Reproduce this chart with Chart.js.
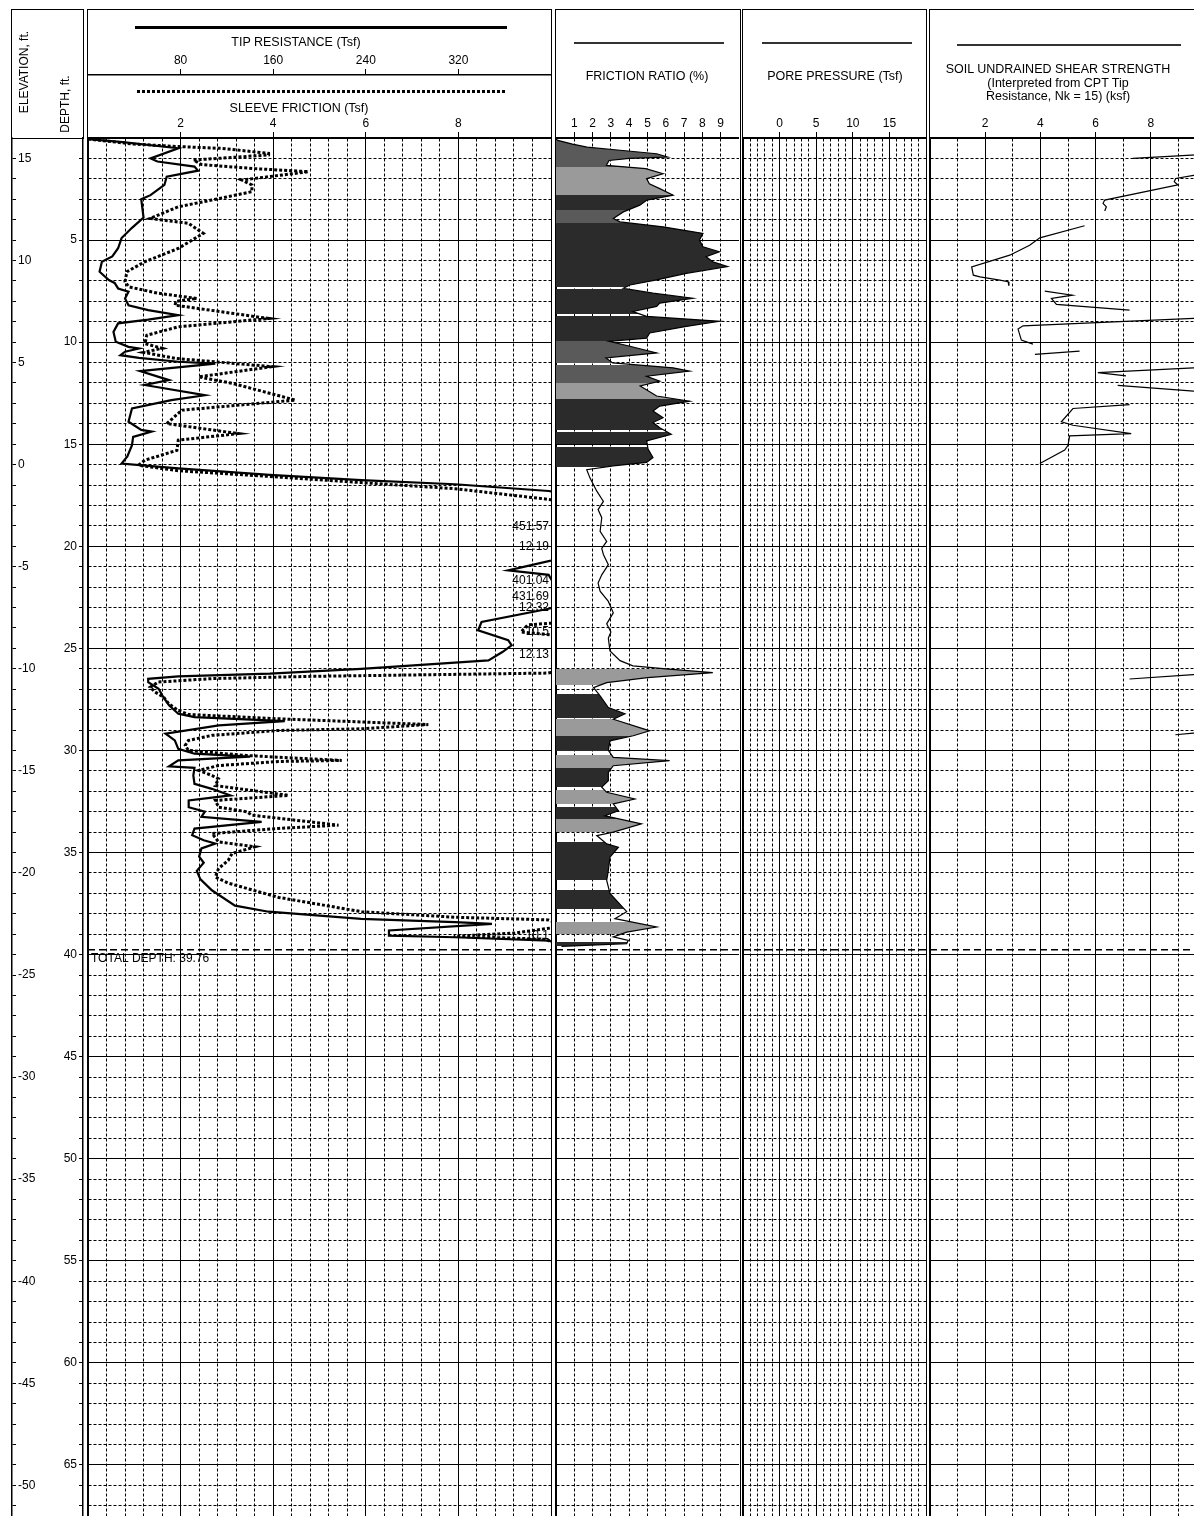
<!DOCTYPE html>
<html>
<head>
<meta charset="utf-8">
<title>CPT log</title>
<script src="https://cdn.jsdelivr.net/npm/chart.js@4.4.1/dist/chart.umd.min.js"></script>
<style>
  html, body { margin: 0; padding: 0; background: #fff; overflow: hidden; }
  #page { position: relative; width: 1194px; height: 1516px; overflow: hidden;
          font-family: "Liberation Sans", Arial, sans-serif; color: #000; }
  #page canvas { position: absolute; top: 0; }
  .frame { position: absolute; border: 1.5px solid #000; box-sizing: border-box; }
  .txt { position: absolute; transform: translate(-50%, -50%); white-space: nowrap; font-size: 12.5px; line-height: 1; }
  .rot { transform: translate(-50%, -50%) rotate(-90deg); font-size: 12px; }
  .key { position: absolute; }
</style>
</head>
<body>
<div id="page">
  <canvas id="elev" width="45" height="1516" style="left:0px"></canvas>
  <canvas id="depth" width="43" height="1516" style="left:45px"></canvas>
  <canvas id="tip" width="463" height="1516" style="left:88px"></canvas>
  <canvas id="fr" width="183" height="1516" style="left:556px"></canvas>
  <canvas id="pore" width="183" height="1516" style="left:743px"></canvas>
  <canvas id="su" width="276" height="1516" style="left:930px"></canvas>

  <div class="frame" style="left:11px;top:9px;width:73px;height:130px"></div>
  <div class="frame" style="left:87px;top:9px;width:465px;height:1530px"></div>
  <div class="frame" style="left:555px;top:9px;width:186px;height:1530px"></div>
  <div class="frame" style="left:742px;top:9px;width:185px;height:1530px"></div>
  <div class="frame" style="left:929px;top:9px;width:300px;height:1530px"></div>

  <div class="txt rot" style="left:24px;top:72px">ELEVATION, ft.</div>
  <div class="txt rot" style="left:65px;top:104px">DEPTH, ft.</div>

  <div class="key" style="left:135px;top:26px;width:372px;height:3px;background:#000"></div>
  <div class="txt" style="left:296px;top:42px">TIP RESISTANCE (Tsf)</div>
  <div class="key" style="left:137px;top:90px;width:370px;height:3px;background:repeating-linear-gradient(90deg,#000 0 3px,transparent 3px 5px)"></div>
  <div class="txt" style="left:299px;top:108px">SLEEVE FRICTION (Tsf)</div>

  <div class="key" style="left:574px;top:42px;width:150px;height:2px;background:#333"></div>
  <div class="txt" style="left:647px;top:76px">FRICTION RATIO (%)</div>

  <div class="key" style="left:762px;top:42px;width:150px;height:2px;background:#333"></div>
  <div class="txt" style="left:835px;top:76px">PORE PRESSURE (Tsf)</div>

  <div class="key" style="left:957px;top:44px;width:224px;height:2px;background:#333"></div>
  <div class="txt" style="left:1058px;top:69px">SOIL UNDRAINED SHEAR STRENGTH</div>
  <div class="txt" style="left:1058px;top:83px">(Interpreted from CPT Tip</div>
  <div class="txt" style="left:1058px;top:96px">Resistance, Nk = 15) (ksf)</div>
</div>

<script>
// depth axis shared by every track (ft), elevation = elevTop - depth
const depthMax = 67.5;
const elevTop = 16;
const totalDepth = 39.76;

// tick labels
const tipTickLabels = [80, 160, 240, 320];
const sleeveTickLabels = [2, 4, 6, 8];
const frTickLabels = [1, 2, 3, 4, 5, 6, 7, 8, 9];
const poreTickLabels = [0, 5, 10, 15];
const suTickLabels = [2, 4, 6, 8];

// [depth ft, tip resistance Tsf]
const tipResistance = [[0.05,0],[0.2,30],[0.5,78],[1.0,54],[1.15,60],[1.4,92],[1.6,95],[1.9,68],[2.3,66],[2.8,54],[3.0,46],[3.9,48],[4.4,38],[4.9,29],[5.4,26],[5.8,21],[6.06,12],[6.55,10],[6.96,18],[7.1,23],[7.37,26],[7.53,35],[7.86,32],[8.19,35],[8.43,52],[8.68,78],[8.9,52],[9.08,26],[9.5,22],[9.98,24],[10.23,35],[10.31,44],[10.47,32],[10.64,28],[10.77,44],[10.96,78],[11.05,110],[11.42,45],[11.86,70],[12.1,49],[12.6,101],[12.84,72],[13.25,38],[13.9,35],[14.3,46],[14.38,55],[14.64,39],[15.05,38],[15.6,34],[15.95,29],[16.18,78],[16.5,157],[16.76,236],[16.96,317],[17.29,398],[17.6,430],[18.5,448],[19.05,451.57],[20.0,440],[20.7,400],[21.18,363],[21.4,398],[21.7,401.04],[22.45,431.69],[23.06,398],[23.71,340],[24.12,337],[24.6,363],[24.85,366],[25.18,358],[25.59,346],[26.0,236],[26.24,157],[26.37,78],[26.49,52],[26.65,52],[26.98,61],[27.38,65],[27.79,70],[28.2,78],[28.37,92],[28.56,170],[28.77,113],[29.18,67],[29.51,75],[29.92,78],[30.16,92],[30.3,140],[30.49,78],[30.78,70],[30.85,92],[31.23,91],[31.64,92],[31.88,107],[32.2,123],[32.45,87],[32.78,87],[33.0,101],[33.25,98],[33.5,150],[33.83,92],[34.15,90],[34.4,100],[34.56,110],[34.8,98],[35.2,96],[35.5,100],[35.9,94],[36.3,97],[36.85,107],[37.6,127],[37.9,156],[38.25,236],[38.41,317],[38.5,349],[38.82,260],[39.07,260],[39.15,317],[39.32,398],[39.5,410],[39.76,410]];

// [depth ft, sleeve friction Tsf]
const sleeveFriction = [[0.05,0],[0.3,1.0],[0.42,1.96],[0.51,2.89],[0.75,3.9],[0.83,3.9],[1.08,2.28],[1.3,2.45],[1.5,3.6],[1.65,4.76],[2.06,3.32],[2.3,3.54],[2.63,3.54],[3.04,2.67],[3.37,1.95],[3.94,1.34],[4.18,2.17],[4.67,2.49],[5.41,1.95],[6.06,1.23],[6.55,0.84],[7.04,0.8],[7.29,0.88],[7.6,1.5],[7.86,2.35],[8.0,1.9],[8.19,1.88],[8.84,3.9],[9.25,1.95],[9.66,1.27],[10.07,1.23],[10.3,1.6],[10.5,1.2],[10.8,1.9],[11.2,3.97],[11.7,2.39],[12.03,3.14],[12.84,4.48],[13.33,2.03],[13.99,1.7],[14.48,3.25],[14.8,1.95],[15.3,1.92],[15.78,1.23],[16.03,1.09],[16.3,1.95],[16.58,3.93],[16.88,5.91],[17.18,7.93],[17.7,9.94],[18.2,11.5],[20.0,12.19],[22.0,11.8],[23.0,12.32],[23.6,11.0],[23.85,9.5],[24.2,9.35],[24.45,10.5],[25.2,12.13],[26.21,9.94],[26.37,4.83],[26.48,2.68],[26.65,1.52],[26.9,1.34],[27.14,1.45],[27.38,1.63],[27.71,1.74],[28.04,1.95],[28.24,2.17],[28.45,4.12],[28.73,7.35],[28.94,5.91],[29.02,4.12],[29.26,2.68],[29.51,2.17],[29.75,2.1],[30.0,2.17],[30.25,3.43],[30.49,5.48],[30.54,4.12],[30.74,2.82],[30.98,2.39],[31.23,2.68],[31.39,2.82],[31.72,2.75],[32.2,4.33],[32.45,2.75],[32.78,2.82],[33.0,3.43],[33.17,3.54],[33.66,5.41],[33.82,4.12],[34.07,2.68],[34.48,2.82],[34.72,3.61],[35.05,3.11],[35.38,3.03],[35.78,2.82],[36.2,2.75],[36.5,3.03],[37.2,4.12],[37.9,5.91],[38.17,7.93],[38.3,9.94],[38.6,10.3],[38.95,9.2],[39.1,7.9],[39.25,9.9],[39.5,10.1],[39.76,10.1]];

// values printed where the traces run off the scale
const offScaleDepths = [19.05, 20.0, 21.7, 22.45, 23.0, 24.2, 25.3, 39.07];
const offScaleTexts = ['451.57', '12.19', '401.04', '431.69', '12.32', '10.5', '12.13', '10.1'];

// [depth ft, friction ratio %]
const frictionRatio = [[0.05,0],[0.12,0.1],[0.3,0.9],[0.45,1.7],[0.6,3.5],[0.77,5.5],[0.93,6.1],[1.0,4.0],[1.1,2.9],[1.34,2.75],[1.5,4.9],[1.75,5.85],[1.99,4.95],[2.24,5.1],[2.48,5.67],[2.8,6.4],[3.05,4.95],[3.29,4.58],[3.62,3.68],[3.94,3.13],[4.11,3.5],[4.35,5.85],[4.67,8.03],[5.0,7.84],[5.33,8.03],[5.57,8.93],[5.81,8.2],[6.06,8.57],[6.3,9.38],[6.63,7.12],[6.95,5.5],[7.2,4.04],[7.36,3.68],[7.6,5.3],[7.85,7.48],[8.09,5.67],[8.25,5.5],[8.5,4.2],[8.74,4.95],[8.98,8.93],[9.23,7.12],[9.55,5.12],[9.8,4.95],[9.96,2.9],[10.2,4.04],[10.53,5.5],[10.77,2.73],[11.02,3.1],[11.26,6.4],[11.42,7.3],[11.67,4.95],[11.91,5.67],[12.15,4.6],[12.64,5.5],[12.89,7.3],[13.13,5.67],[13.37,5.3],[13.7,5.85],[13.94,5.3],[14.19,5.67],[14.51,6.3],[14.84,4.95],[15.24,5.03],[15.65,5.3],[15.89,4.95],[16.06,3.13],[16.25,1.68],[16.66,1.86],[17.3,2.23],[17.8,2.59],[18.2,2.3],[18.6,2.5],[19.27,2.41],[19.76,2.77],[20.1,2.5],[20.4,2.59],[20.9,2.86],[21.4,2.5],[21.8,2.3],[22.2,2.41],[22.7,2.86],[23.26,3.13],[23.8,2.77],[24.2,3.0],[24.5,2.86],[25.13,2.95],[25.6,3.5],[25.86,4.2],[26.0,6.0],[26.19,8.57],[26.43,5.0],[26.68,2.77],[26.92,2.05],[27.33,2.41],[27.9,2.86],[28.2,3.77],[28.47,3.13],[29.04,5.12],[29.28,4.22],[29.53,2.95],[30.0,2.86],[30.34,3.13],[30.5,6.21],[30.75,3.13],[31.07,2.86],[31.48,2.86],[31.8,2.5],[32.05,2.77],[32.38,4.31],[32.62,3.13],[32.95,3.41],[33.2,2.68],[33.6,4.67],[34.0,3.13],[34.17,2.23],[34.58,2.77],[34.74,3.41],[35.23,2.95],[35.88,2.86],[36.37,2.77],[37.0,2.95],[37.9,3.86],[38.24,3.22],[38.65,5.5],[38.9,3.86],[39.13,3.13],[39.3,3.95],[39.46,3.86],[39.6,0.3]];

// shading bands under the friction ratio trace: [top ft, bottom ft, shade]
const frBands = [[0,1.4,'mid'],[1.4,2.8,'light'],[2.8,3.55,'dark'],[3.55,4.15,'mid'],[4.15,7.3,'dark'],[7.42,8.6,'dark'],[8.7,9.96,'dark'],[9.96,11.0,'mid'],[11.12,12.0,'mid'],[12.0,12.8,'light'],[12.8,14.3,'dark'],[14.4,15.0,'dark'],[15.12,16.1,'dark'],[26.0,26.8,'light'],[27.25,28.4,'dark'],[28.45,29.3,'light'],[29.3,30.05,'dark'],[30.2,30.85,'light'],[30.85,31.8,'dark'],[31.95,32.6,'light'],[32.78,33.36,'dark'],[33.36,34.0,'light'],[34.5,36.37,'dark'],[36.86,37.75,'dark'],[38.4,38.97,'light'],[39.4,39.6,'dark']];
const shades = {dark: '#2b2b2b', mid: '#5a5a5a', light: '#9a9a9a'};

// no pore pressure readings on this sounding
const porePressure = [];

// undrained shear strength, broken pieces: [depth ft, su ksf]
const suSegments = [
  [[0.8,10.2],[0.83,9.64],[0.88,8.98],[1.0,7.35]],
  [[1.81,10.2],[1.83,9.55],[1.98,8.9],[2.14,8.85],[2.3,8.98],[3.04,6.33],[3.2,6.27],[3.37,6.39],[3.58,6.33]],
  [[4.3,5.6],[4.89,3.98],[5.25,3.61],[5.74,2.89],[6.31,1.51],[6.72,1.57],[6.8,1.81],[6.96,2.53],[7.04,2.83],[7.24,2.86]],
  [[7.5,4.16],[7.7,5.16],[7.86,4.4],[8.15,4.58],[8.43,7.23]],
  [[8.82,10.2],[8.84,9.55],[9.2,3.37],[9.36,3.19],[9.9,3.31],[10.1,3.73]],
  [[10.6,3.8],[10.44,5.42]],
  [[11.24,10.2],[11.26,9.55],[11.49,6.08],[11.65,7.1]],
  [[12.12,6.8],[12.4,9.55],[12.43,10.2]],
  [[13.06,7.23],[13.25,5.18],[13.9,4.76],[14.07,5.18],[14.48,7.29],[14.59,5.06],[15.05,5.0],[15.29,4.88],[15.94,3.98]],
  [[26.5,7.23],[26.29,9.54],[26.26,10.2]],
  [[29.23,8.89],[29.15,9.54],[29.13,10.2]]
];

Chart.defaults.font.family = '"Liberation Sans", Arial, sans-serif';
Chart.defaults.font.size = 12;
Chart.defaults.color = '#000';
Chart.defaults.animation = false;
Chart.defaults.responsive = false;
Chart.defaults.layout.autoPadding = false;
Chart.defaults.plugins.legend.display = false;
Chart.defaults.plugins.tooltip.enabled = false;

const DOT = [3, 2];
const pts = arr => arr.map(([d, v]) => ({x: v, y: d}));
const dashUnless = solid => c => (c.tick && !solid(c.tick.value)) ? DOT : [];

function depthGrid(){
  return {
    type: 'linear', reverse: true, min: 0, max: depthMax,
    ticks: {display: false, stepSize: 1, includeBounds: false, autoSkip: false},
    grid: {color: '#000', lineWidth: 1, drawTicks: false},
    border: {color: '#000', width: 1.5, dash: dashUnless(v => v % 5 === 0)},
    afterFit: s => { s.width = 0; }
  };
}

function valueAxis(o){
  return {
    type: 'linear', position: 'top', min: o.min, max: o.max, weight: o.weight || 0,
    ticks: {stepSize: o.step, includeBounds: false, autoSkip: false, maxRotation: 0, padding: 1,
      callback: v => o.labels.includes(v) ? String(v) : ''},
    grid: {drawOnChartArea: o.onChart !== false, color: '#000', lineWidth: 1, tickLength: 6,
      tickColor: c => (c.tick && o.labels.includes(c.tick.value)) ? '#000' : 'rgba(0,0,0,0)'},
    border: {color: '#000', width: 1.5, dash: dashUnless(o.solid)},
    afterFit: s => { s.height = o.height; s.paddingLeft = 0; s.paddingRight = 0; }
  };
}

function totalDepthLine(axisId, x0, x1){
  return {data: [{x: x0, y: totalDepth}, {x: x1, y: totalDepth}], xAxisID: axisId,
    showLine: true, borderColor: '#000', borderWidth: 1.5, borderDash: [7, 4], pointRadius: 0, fill: false};
}

// ELEVATION axis (ticks point right)
new Chart(document.getElementById('elev'), {
  type: 'scatter',
  data: {datasets: []},
  options: {
    layout: {padding: {top: 138, left: 2, right: 0, bottom: 0}},
    scales: {
      x: {display: false, min: 0, max: 1},
      y: {type: 'linear', position: 'right', min: elevTop - depthMax, max: elevTop,
        ticks: {stepSize: 1, includeBounds: false, autoSkip: false, padding: 2,
          callback: v => v % 5 === 0 ? String(v) : ''},
        grid: {drawOnChartArea: false, tickLength: 4, tickColor: '#000', tickWidth: 1},
        border: {color: '#000', width: 1.5},
        afterFit: s => { s.width = 33; s.paddingTop = 0; s.paddingBottom = 0; }
      }
    }
  }
});

// DEPTH axis
new Chart(document.getElementById('depth'), {
  type: 'scatter',
  data: {datasets: []},
  options: {
    layout: {padding: {top: 138, left: 0, right: 0, bottom: 0}},
    scales: {
      x: {display: false, min: 0, max: 1},
      y: {type: 'linear', position: 'left', reverse: true, min: 0, max: depthMax,
        ticks: {stepSize: 1, includeBounds: false, autoSkip: false, padding: 2,
          callback: v => (v % 5 === 0 && v > 0) ? String(v) : ''},
        grid: {drawOnChartArea: false, tickLength: 4, tickColor: '#000', tickWidth: 1},
        border: {color: '#000', width: 1.5},
        afterFit: s => { s.width = 38; s.paddingTop = 0; s.paddingBottom = 0; }
      }
    }
  }
});

// labels for off-scale readings + total depth note
const offScaleMarks = {
  id: 'offScaleMarks',
  afterDatasetsDraw(chart){
    const {ctx, chartArea, scales} = chart;
    const y = scales.y;
    ctx.save();
    ctx.font = '12px "Liberation Sans", Arial, sans-serif';
    ctx.fillStyle = '#000';
    ctx.textBaseline = 'middle';
    ctx.textAlign = 'right';
    offScaleDepths.forEach((d, i) => ctx.fillText(offScaleTexts[i], chartArea.right - 2, y.getPixelForValue(d)));
    ctx.textAlign = 'left';
    ctx.fillText('TOTAL DEPTH: ' + totalDepth.toFixed(2), chartArea.left + 3, y.getPixelForValue(totalDepth) + 9);
    ctx.restore();
  }
};

// TIP RESISTANCE / SLEEVE FRICTION
new Chart(document.getElementById('tip'), {
  type: 'scatter',
  data: {datasets: [
    {label: 'Sleeve friction', data: pts(sleeveFriction), xAxisID: 'x', showLine: true,
      borderColor: '#000', borderWidth: 3, borderDash: [3, 2], pointRadius: 0},
    {label: 'Tip resistance', data: pts(tipResistance), xAxisID: 'x2', showLine: true,
      borderColor: '#000', borderWidth: 2.2, pointRadius: 0},
    totalDepthLine('x', 0, 10)
  ]},
  options: {
    layout: {padding: {top: 10, left: 0, right: 0, bottom: 0}},
    scales: {
      x: valueAxis({min: 0, max: 10, step: 2, labels: sleeveTickLabels, solid: () => true, height: 63, weight: 1, onChart: false}),
      x2: valueAxis({min: 0, max: 400, step: 16, labels: tipTickLabels, solid: v => v % 80 === 0, height: 65, weight: 2}),
      y: depthGrid()
    }
  },
  plugins: [offScaleMarks]
});

// shaded fill under the friction ratio trace, one colour per band
function bandFill(c){
  const chart = c.chart;
  const area = chart.chartArea;
  if (!area) return shades.dark;
  const y = chart.scales.y;
  const g = chart.ctx.createLinearGradient(0, area.top, 0, area.bottom);
  const f = d => Math.min(1, Math.max(0, (y.getPixelForValue(d) - area.top) / (area.bottom - area.top)));
  const clear = 'rgba(255,255,255,0)';
  frBands.forEach(([t, b, s]) => {
    g.addColorStop(f(t), clear);
    g.addColorStop(f(t), shades[s]);
    g.addColorStop(f(b), shades[s]);
    g.addColorStop(f(b), clear);
  });
  return g;
}

// FRICTION RATIO
new Chart(document.getElementById('fr'), {
  type: 'line',
  data: {datasets: [
    {label: 'Friction ratio', data: pts(frictionRatio), fill: 'origin', backgroundColor: bandFill,
      borderColor: '#000', borderWidth: 1.2, pointRadius: 0},
    totalDepthLine('x', 0, 10)
  ]},
  options: {
    indexAxis: 'y',
    layout: {padding: {top: 10, left: 0, right: 0, bottom: 0}},
    scales: {
      x: valueAxis({min: 0, max: 10, step: 1, labels: frTickLabels, solid: v => v === 0 || v === 10, height: 128}),
      y: depthGrid()
    }
  }
});

// PORE PRESSURE
new Chart(document.getElementById('pore'), {
  type: 'scatter',
  data: {datasets: [
    {label: 'Pore pressure', data: pts(porePressure), showLine: true, borderColor: '#000', borderWidth: 1.2, pointRadius: 0},
    totalDepthLine('x', -5, 20)
  ]},
  options: {
    layout: {padding: {top: 10, left: 0, right: 0, bottom: 0}},
    scales: {
      x: valueAxis({min: -5, max: 20, step: 1, labels: poreTickLabels, solid: v => v % 5 === 0, height: 128}),
      y: depthGrid()
    }
  }
});

// SOIL UNDRAINED SHEAR STRENGTH
new Chart(document.getElementById('su'), {
  type: 'scatter',
  data: {datasets: suSegments.map(seg => ({
    data: pts(seg), showLine: true, borderColor: '#000', borderWidth: 1.2, pointRadius: 0
  })).concat([totalDepthLine('x', 0, 10)])},
  options: {
    layout: {padding: {top: 10, left: 0, right: 0, bottom: 0}},
    scales: {
      x: valueAxis({min: 0, max: 10, step: 1, labels: suTickLabels, solid: v => v % 2 === 0, height: 128}),
      y: depthGrid()
    }
  }
});
</script>
</body>
</html>
